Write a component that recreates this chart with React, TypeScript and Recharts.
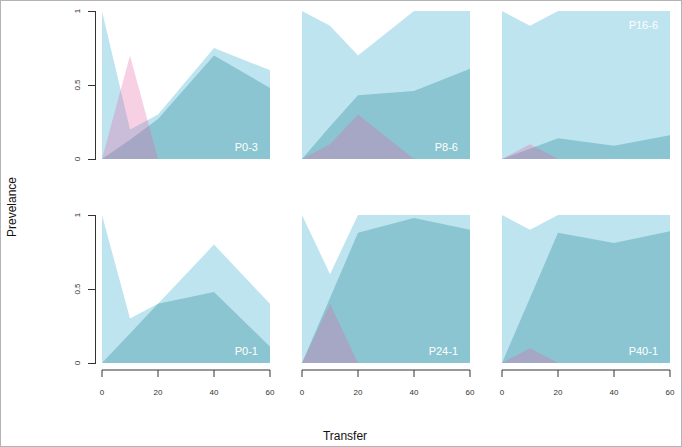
import { AreaChart, Area, XAxis, YAxis } from 'recharts';

const transfer = [0, 10, 20, 40, 60];
const panelNames = ['P0-3', 'P8-6', 'P16-6', 'P0-1', 'P24-1', 'P40-1'];

const totalPrev = [
  [1, 0.2, 0.3, 0.75, 0.6],
  [1, 0.9, 0.7, 1, 1],
  [1, 0.9, 1, 1, 1],
  [1, 0.3, 0.4, 0.8, 0.4],
  [1, 0.6, 1, 1, 1],
  [1, 0.9, 1, 1, 1],
];
const tealPrev = [
  [0, 0.13, 0.27, 0.7, 0.48],
  [0, 0.22, 0.43, 0.46, 0.61],
  [0, 0.07, 0.14, 0.09, 0.16],
  [0, 0.2, 0.4, 0.48, 0.11],
  [0, 0.44, 0.88, 0.98, 0.9],
  [0, 0.44, 0.88, 0.81, 0.89],
];
const pinkPrev = [
  [0, 0.7, 0, 0, 0],
  [0, 0.1, 0.3, 0, 0],
  [0, 0.1, 0, 0, 0],
  [0, 0, 0, 0, 0],
  [0, 0.4, 0, 0, 0],
  [0, 0.1, 0, 0, 0],
];

const xTicks = [0, 20, 40, 60];
const yTicks = [0, 0.5, 1];

const FONT = '"Liberation Sans", Arial, Helvetica, sans-serif';
const COL_X = [102, 302, 502];
const ROW_Y = [11, 215];
const PW = 168;
const PH = 148;
const PAD = 12;

function YTick(props: any) {
  const { y, payload } = props;
  return (
    <text
      x={80}
      y={y}
      transform={`rotate(-90, 80, ${y})`}
      textAnchor="middle"
      fontSize={8}
      fill="#333"
      fontFamily={FONT}
    >
      {payload.value}
    </text>
  );
}

function Panel({ idx }: { idx: number }) {
  const col = idx % 3;
  const row = Math.floor(idx / 3);
  const data = transfer.map((t, i) => ({
    t,
    total: totalPrev[idx][i],
    teal: tealPrev[idx][i],
    pink: pinkPrev[idx][i],
  }));
  const labelTop = idx === 2;
  return (
    <div style={{ position: 'absolute', left: COL_X[col], top: ROW_Y[row], width: PW, height: PH }}>
      <AreaChart width={PW} height={PH} data={data} margin={{ top: 0, right: 0, bottom: 0, left: 0 }}>
        <XAxis dataKey="t" type="number" domain={[0, 60]} hide />
        <YAxis type="number" domain={[0, 1]} hide />
        <Area type="linear" dataKey="total" stroke="none" fill="#bde4ef" fillOpacity={1} isAnimationActive={false} />
        <Area type="linear" dataKey="teal" stroke="none" fill="#8ac5d1" fillOpacity={1} isAnimationActive={false} />
        <Area type="linear" dataKey="pink" stroke="none" fill="#e862a5" fillOpacity={0.3} isAnimationActive={false} />
      </AreaChart>
      <div
        style={{
          position: 'absolute',
          right: 12,
          top: labelTop ? 8 : 130,
          color: '#fff',
          fontFamily: FONT,
          fontSize: 11,
          lineHeight: '13px',
        }}
      >
        {panelNames[idx]}
      </div>
    </div>
  );
}

function YAxisBlock({ row }: { row: number }) {
  const data = transfer.map((t, i) => ({ t, v: totalPrev[row * 3][i] }));
  return (
    <div style={{ position: 'absolute', left: 0, top: ROW_Y[row] - PAD, width: 120, height: PH + 2 * PAD }}>
      <AreaChart
        width={120}
        height={PH + 2 * PAD}
        data={data}
        margin={{ top: PAD, right: 0, bottom: PAD, left: 0 }}
      >
        <XAxis dataKey="t" type="number" domain={[0, 60]} hide />
        <YAxis
          type="number"
          domain={[0, 1]}
          ticks={yTicks}
          interval={0}
          width={96}
          tickSize={7}
          tickMargin={9}
          axisLine={false}
          tickLine={false}
          tick={(p: any) => <YTick {...p} />}
        />
        <Area type="linear" dataKey="v" stroke="none" fill="none" isAnimationActive={false} />
      </AreaChart>
      {/* axis line and tick marks */}
      <div style={{ position: 'absolute', left: 95, top: PAD, width: 1, height: PH + 1, background: '#333' }} />
      {yTicks.map(v => (
        <div
          key={v}
          style={{ position: 'absolute', left: 88, top: PAD + PH * (1 - v), width: 8, height: 1, background: '#333' }}
        />
      ))}
    </div>
  );
}

function XAxisBlock({ col }: { col: number }) {
  return (
    <div style={{ position: 'absolute', left: COL_X[col] - PAD, top: 350, width: PW + 2 * PAD, height: 60 }}>
      <AreaChart
        width={PW + 2 * PAD}
        height={60}
        data={[{ t: 0, v: 0 }]}
        margin={{ top: 0, right: PAD, bottom: 0, left: PAD }}
      >
        <XAxis
          dataKey="t"
          type="number"
          domain={[0, 60]}
          ticks={xTicks}
          interval={0}
          height={40}
          tickSize={7}
          tickMargin={12}
          stroke="#333"
          tick={{ fontSize: 8, fill: '#333', fontFamily: FONT }}
        />
        <YAxis type="number" domain={[0, 1]} hide />
      </AreaChart>
    </div>
  );
}

export default function App() {
  return (
    <div
      style={{
        position: 'absolute',
        left: 0,
        top: 0,
        width: 680,
        height: 445,
        border: '1px solid #b4b4b4',
        background: '#fff',
        overflow: 'hidden',
      }}
    >
      <div style={{ position: 'absolute', left: -1, top: -1, width: 682, height: 447 }}>
        {panelNames.map((_, i) => (
          <Panel key={i} idx={i} />
        ))}
        <YAxisBlock row={0} />
        <YAxisBlock row={1} />
        {[0, 1, 2].map(c => (
          <XAxisBlock key={c} col={c} />
        ))}
        <div
          style={{
            position: 'absolute',
            left: 12 - 40,
            top: 207 - 8,
            width: 80,
            height: 16,
            transform: 'rotate(-90deg)',
            textAlign: 'center',
            fontFamily: FONT,
            fontSize: 12,
            lineHeight: '16px',
            color: '#111',
          }}
        >
          Prevelance
        </div>
        <div
          style={{
            position: 'absolute',
            left: 345 - 40,
            top: 429,
            width: 80,
            textAlign: 'center',
            fontFamily: FONT,
            fontSize: 12,
            lineHeight: '14px',
            color: '#111',
          }}
        >
          Transfer
        </div>
      </div>
    </div>
  );
}
